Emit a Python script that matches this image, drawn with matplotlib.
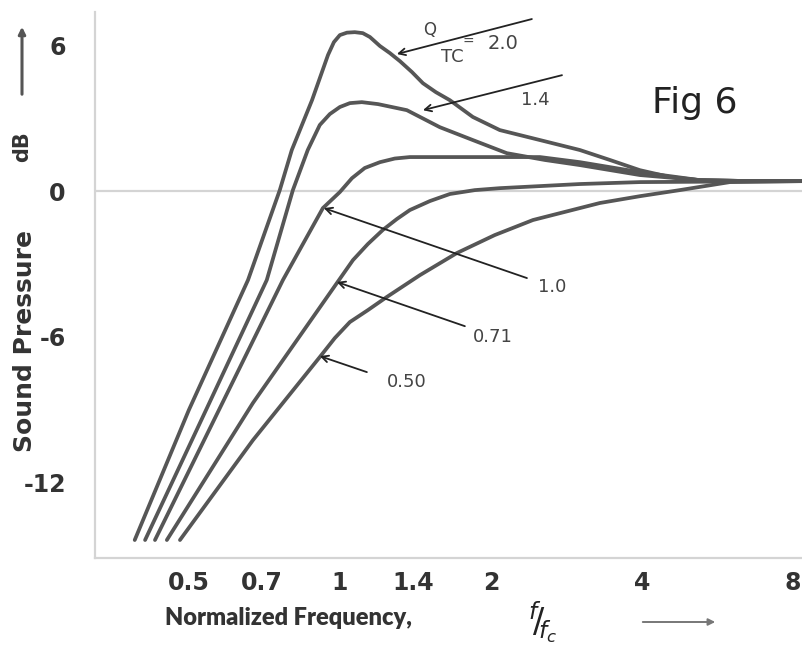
import numpy as np
import matplotlib
matplotlib.use("Agg")
import matplotlib.pyplot as plt
from matplotlib.patches import FancyArrowPatch

# response curves (normalized frequency, dB)
q20_f  = [0.390, 0.500, 0.656, 0.759, 0.802, 0.880, 0.947, 0.973, 1.000, 1.033, 1.071, 1.111, 1.148, 1.202, 1.258,
          1.317, 1.392, 1.464, 1.554, 1.657, 1.841, 2.084, 2.505, 3.009, 3.454, 3.964, 4.55, 5.22, 6.57, 8.38]
q20_db = [-14.36, -9.01, -3.66, 0.04, 1.69, 3.74, 5.60, 6.13, 6.42, 6.52, 6.54, 6.50, 6.34, 5.97, 5.68,
          5.35, 4.90, 4.44, 4.07, 3.74, 3.05, 2.51, 2.10, 1.69, 1.28, 0.86, 0.58, 0.45, 0.41, 0.41]

q14_f  = [0.409, 0.541, 0.715, 0.806, 0.863, 0.912, 0.955, 1.000, 1.047, 1.106, 1.191, 1.360, 1.582, 1.841,
          2.152, 2.563, 3.009, 3.964, 5.22, 6.57, 8.38]
q14_db = [-14.36, -9.01, -3.66, 0.04, 1.69, 2.72, 3.17, 3.46, 3.62, 3.66, 3.58, 3.33, 2.63, 2.10,
          1.56, 1.28, 1.07, 0.66, 0.45, 0.41, 0.41]

q10_f  = [0.428, 0.574, 0.770, 0.925, 1.000, 1.057, 1.121, 1.202, 1.287, 1.379, 2.505, 3.009, 3.964, 5.22, 6.57, 8.38]
q10_db = [-14.36, -9.01, -3.66, -0.70, -0.04, 0.53, 0.95, 1.19, 1.34, 1.40, 1.40, 1.19, 0.78, 0.45, 0.41, 0.41]

q071_f  = [0.452, 0.671, 0.986, 1.062, 1.137, 1.218, 1.299, 1.379, 1.512, 1.657, 1.858, 2.084, 3.009, 3.964, 8.38]
q071_db = [-14.36, -8.72, -3.79, -2.84, -2.18, -1.60, -1.15, -0.78, -0.41, -0.12, 0.04, 0.12, 0.29, 0.37, 0.41]

q050_f  = [0.480, 0.671, 0.912, 0.977, 1.047, 1.137, 1.240, 1.444, 1.711, 2.036, 2.427, 3.299, 3.964, 4.76, 5.99, 8.38]
q050_db = [-14.36, -10.25, -6.83, -6.05, -5.39, -4.90, -4.36, -3.46, -2.55, -1.81, -1.19, -0.49, -0.21, 0.04, 0.37, 0.41]

x_ticks = [0.5, 0.7, 1, 1.4, 2, 4, 8]
x_ticklabels = ["0.5", "0.7", "1", "1.4", "2", "4", "8"]
y_ticks = [6, 0, -6, -12]
y_ticklabels = ["6", "0", "-6", "-12"]

# labels: (text, arrow tip, arrow tail, text position)
labels = [
    ("1.4", (1.464, 3.33), (2.772, 4.77), (2.447, 3.74)),
    ("1.0", (0.929, -0.70), (2.360, -3.58), (2.646, -3.95)),
    ("0.71", (0.986, -3.74), (1.775, -5.56), (2.018, -6.01)),
    ("0.50", (0.912, -6.79), (1.132, -7.45), (1.360, -7.86)),
]

W, H = 803, 657
fig = plt.figure(figsize=(W / 100, H / 100), dpi=100)
ax = fig.add_axes([95 / W, 1 - 558 / H, 1 - 95 / W, (558 - 12) / H])

curve_col = "#565656"
for f, db in [(q20_f, q20_db), (q14_f, q14_db), (q10_f, q10_db), (q071_f, q071_db), (q050_f, q050_db)]:
    ax.plot(f, db, color=curve_col, lw=2.7, solid_capstyle="round", solid_joinstyle="round")

ax.axhline(0, color="#d4d4d4", lw=1.6, zorder=0)
ax.set_xscale("log")
ax.set_xlim(0.325, 8.38)
ax.set_ylim(-15.1, 7.37)

ax.set_xticks(x_ticks)
ax.set_xticklabels(x_ticklabels)
ax.xaxis.set_minor_locator(matplotlib.ticker.NullLocator())
ax.set_yticks(y_ticks)
ax.set_yticklabels(y_ticklabels)
ax.tick_params(length=0, labelsize=17, colors="#333333")
ax.tick_params(axis="y", pad=21)
ax.tick_params(axis="x", pad=9)
for lab in ax.get_xticklabels() + ax.get_yticklabels():
    lab.set_fontweight("bold")

for s in ["top", "right"]:
    ax.spines[s].set_visible(False)
for s in ["left", "bottom"]:
    ax.spines[s].set_color("#d4d4d4")
    ax.spines[s].set_linewidth(1.6)

# Q annotations
arrow = dict(arrowstyle="->", color="#222222", lw=1.3, shrinkA=0, shrinkB=0, mutation_scale=12)
ax.annotate("", xy=(1.299, 5.64), xytext=(2.414, 7.08), arrowprops=arrow)
ax.text(1.512, 6.63, "Q", fontsize=12, color="#444444", ha="center", va="center")
ax.text(1.672, 5.51, "TC", fontsize=13, color="#444444", ha="center", va="center")
ax.text(1.800, 6.13, "=", fontsize=10, color="#444444", ha="center", va="center")
ax.text(2.113, 6.09, "2.0", fontsize=14, color="#444444", ha="center", va="center")
for txt, tip, tail, pos in labels:
    ax.annotate("", xy=tip, xytext=tail, arrowprops=arrow)
    ax.text(pos[0], pos[1], txt, fontsize=13, color="#444444", ha="center", va="center")

# figure-level texts
fig.text(695 / W, 1 - 103 / H, "Fig 6", fontsize=26, color="#222222", ha="center", va="center")
fig.text(25 / W, 1 - 341 / H, "Sound Pressure", fontsize=18, fontweight="bold", color="#333333",
         rotation=90, ha="center", va="center")
fig.text(22 / W, 1 - 147 / H, "dB", fontsize=15, fontweight="bold", color="#333333",
         rotation=90, ha="center", va="center")
fig.patches.append(FancyArrowPatch((22 / W, 1 - 97 / H), (22 / W, 1 - 24 / H),
                   transform=fig.transFigure, arrowstyle="-|>", mutation_scale=10, lw=2.2, color="#555555"))
fig.text(289 / W, 1 - 618 / H, "Normalized Frequency,", fontsize=17, fontweight="heavy", color="#333333",
         family=["Lato", "DejaVu Sans"], ha="center", va="center")
fig.text(543 / W, 1 - 622 / H, r"$^{f}\!/\!_{f_c}$", fontsize=24, color="#222222", ha="center", va="center")
fig.patches.append(FancyArrowPatch((640 / W, 1 - 622 / H), (718 / W, 1 - 622 / H),
                   transform=fig.transFigure, arrowstyle="-|>", mutation_scale=10, lw=1.4, color="#777777"))

fig.savefig("out.png", dpi=100)
